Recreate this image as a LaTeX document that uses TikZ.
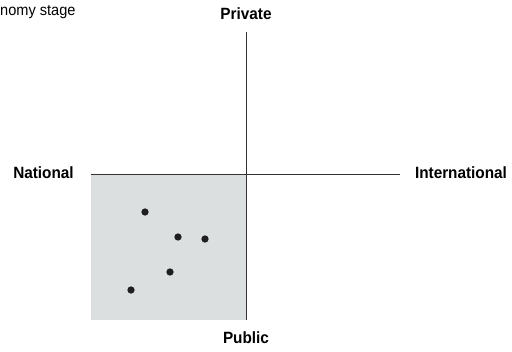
\documentclass[tikz,border=0pt]{standalone}
\usepackage{fontspec}
\setmainfont[FakeStretch=0.94]{Liberation Sans}
\usepackage{tikz}

\definecolor{quadgris}{RGB}{220,223,224}

\tikzset{
  axe/.style={line width=0.9pt, draw=black!80},
  lbl/.style={font=\bfseries\fontsize{16.3}{19}\selectfont, inner sep=0pt},
  pt/.style={circle, fill=black!88, inner sep=0pt, minimum size=7.3pt}
}

\begin{document}
\begin{tikzpicture}[x=1pt,y=1pt]

  \useasboundingbox (0,0) rectangle (512,352);

  % Titre coupé en haut à gauche
  \node[anchor=base west, inner sep=0pt, font=\fontsize{15.5}{18}\selectfont] (titre) at (0,336) {nomy stage};

  % Quadrant grisé (national / public)
  \fill[quadgris] (91,32) rectangle (246,178);

  % Extrémités des axes
  \coordinate (ouest) at (91,178);
  \coordinate (est) at (400,178);
  \coordinate (haut) at (246,320);
  \coordinate (bas) at (246,32);

  % Axes
  \draw[axe] (ouest) -- (est);
  \draw[axe] (haut) -- (bas);

  % Noms des axes
  \node[lbl] (priv) at (246,338) {Private};
  \node[lbl] (pub) at (246,14) {Public};
  \node[lbl] (nat) at (43.5,179) {National};
  \node[lbl] (inter) at (461,179) {International};

  % Points dans le quadrant
  \node[pt] (p1) at (145,140) {};
  \node[pt] (p2) at (178,115) {};
  \node[pt] (p3) at (205,113) {};
  \node[pt] (p4) at (170,80) {};
  \node[pt] (p5) at (131,62) {};

\end{tikzpicture}
\end{document}
